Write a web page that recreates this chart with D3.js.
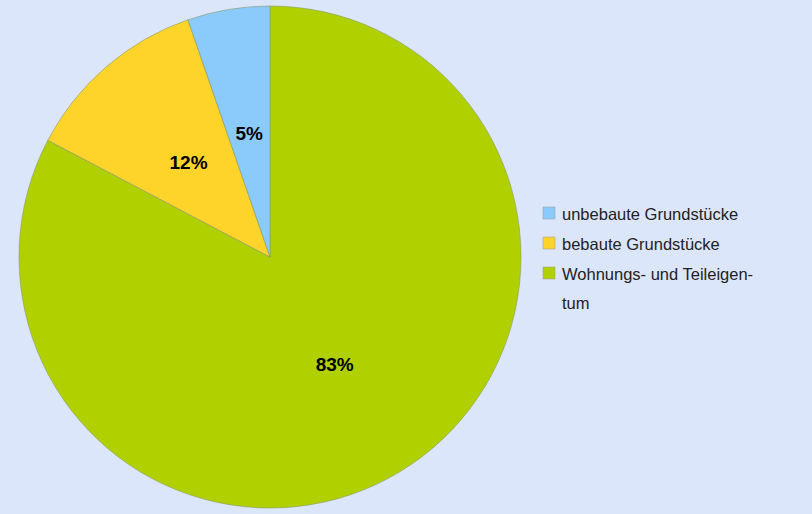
<!DOCTYPE html><html><head><meta charset="utf-8">
<script src="https://cdn.jsdelivr.net/npm/d3@7"></script>
<style>body{margin:0;background:#dce6fa}</style></head><body>
<svg id="c" width="812" height="514"></svg>
<script>
const categories=["Wohnungs- und Teileigentum","bebaute Grundstücke","unbebaute Grundstücke"];
const values=[82.7,12,5.3];
const labels=["83%","12%","5%"];
const colors=["#b0d000","#ffd42a","#8acbfc"];
const legendOrder=[2,1,0];
const legendLines=[["unbebaute Grundstücke"],["bebaute Grundstücke"],["Wohnungs- und Teileigen-","tum"]];
const svg=d3.select("#c");
svg.append("rect").attr("width",812).attr("height",514).attr("fill","#dce6fa");
const R=251,cx=270,cy=257;
const pie=d3.pie().sort(null).value(d=>d)(values);
const arc=d3.arc().innerRadius(0).outerRadius(R);
const lab=d3.arc().innerRadius(125).outerRadius(125);
const g=svg.append("g").attr("transform",`translate(${cx},${cy})`);
g.selectAll("path").data(pie).join("path").attr("d",arc).attr("fill",(d,i)=>colors[i]).attr("stroke","#8a9a6a").attr("stroke-width",0.6);
g.selectAll("text").data(pie).join("text").attr("transform",d=>`translate(${lab.centroid(d)})`)
 .attr("text-anchor","middle").attr("dy","0.35em").attr("font-family","Liberation Sans, Arial, sans-serif")
 .attr("font-weight","bold").attr("font-size",19).text((d,i)=>labels[i]);
const lg=svg.append("g").attr("font-family","Liberation Sans, Arial, sans-serif").attr("font-size",16.5);
const ys=[214,244,274];
legendOrder.forEach((ci,k)=>{
 lg.append("rect").attr("x",543).attr("y",ys[k]-7).attr("width",12).attr("height",12).attr("fill",colors[ci]).attr("stroke","#999").attr("stroke-width",0.5);
 legendLines[k].forEach((t,j)=>lg.append("text").attr("x",562).attr("y",ys[k]+6+j*29).attr("fill","#222").text(t));
});
</script></body></html>
